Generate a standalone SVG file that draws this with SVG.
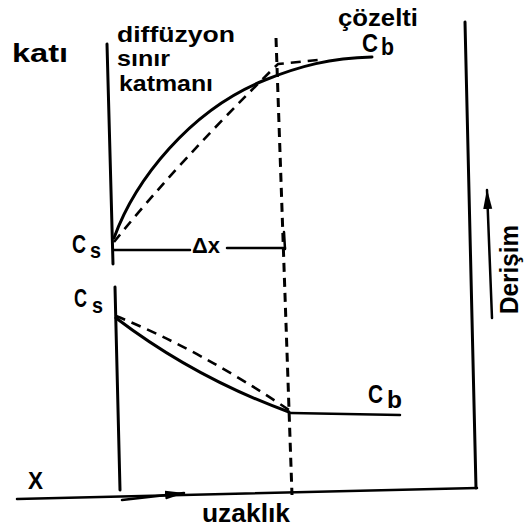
<svg xmlns="http://www.w3.org/2000/svg" width="531" height="529" viewBox="0 0 531 529">
<style>
.t{font-family:"Liberation Sans",Arial,sans-serif;fill:#000;font-weight:bold}
.s{fill:none;stroke:#000;stroke-width:3;stroke-linecap:round;stroke-linejoin:round}
.th{fill:none;stroke:#000;stroke-width:2.5;stroke-linecap:round}
.d{fill:none;stroke:#000;stroke-width:2.6;stroke-dasharray:10,7}
.dv{fill:none;stroke:#000;stroke-width:3;stroke-dasharray:9,6}
</style>
<defs>
<marker id="ah" viewBox="0 0 20 10" refX="19" refY="5" markerWidth="20" markerHeight="10" orient="auto" markerUnits="userSpaceOnUse">
<path d="M0,0.5 L20,5 L0,9.5 Z" fill="#000"/>
</marker>
</defs>
<rect width="531" height="529" fill="#fff"/>
<g id="frame">
<path class="s" d="M107,44 L113,264"/>
<path class="s" d="M115,287 L120,490"/>
<path class="s" d="M465,22 L476,488"/>
<path class="th" d="M17,499 L477,488"/>
</g>
<g id="connectors">
<path class="s" d="M114,238 C135,180 190,110 265,80 C300,66 330,58 372,57"/>
<path class="d" d="M114,242 Q180,160 278,64 L318,60"/>
<path class="s" d="M116,318 Q195,378 289,412"/>
<path class="d" d="M116,316 Q200,350 289,410"/>
<path class="th" d="M291,413 L400,415"/>
<path class="dv" d="M276,38 L292,495"/>
<path class="th" d="M284,232 L285,249"/>
<path class="th" d="M114,250 L190,250"/>
<path class="th" d="M227,248 L285,248"/>
<path class="th" d="M122,500 L184,493" marker-end="url(#ah)"/>
<path class="th" d="M492,318 L487,190" marker-end="url(#ah)"/>
</g>
<g id="labels">
<text class="t" x="12" y="62" font-size="26" textLength="56" lengthAdjust="spacingAndGlyphs">katı</text>
<text class="t" x="117" y="42" font-size="22" textLength="118" lengthAdjust="spacingAndGlyphs">diffüzyon</text>
<text class="t" x="117" y="66" font-size="22" textLength="53" lengthAdjust="spacingAndGlyphs">sınır</text>
<text class="t" x="119" y="91" font-size="22" textLength="94" lengthAdjust="spacingAndGlyphs">katmanı</text>
<text class="t" x="338" y="26" font-size="24" textLength="80" lengthAdjust="spacingAndGlyphs">çözelti</text>
</g>
<g id="Cb-top">
<text class="t" x="362" y="52" font-size="25" textLength="16" lengthAdjust="spacingAndGlyphs">C</text>
<text class="t" x="381" y="55" font-size="23" textLength="13" lengthAdjust="spacingAndGlyphs">b</text>
</g>
<g id="Cs-top">
<text class="t" x="72" y="253" font-size="25" textLength="14" lengthAdjust="spacingAndGlyphs">C</text>
<text class="t" x="90" y="258" font-size="22" textLength="11" lengthAdjust="spacingAndGlyphs">s</text>
</g>
<g id="Cs-bottom">
<text class="t" x="74" y="307" font-size="25" textLength="13" lengthAdjust="spacingAndGlyphs">C</text>
<text class="t" x="92" y="313" font-size="22" textLength="11" lengthAdjust="spacingAndGlyphs">s</text>
</g>
<g id="Cb-bottom">
<text class="t" x="368" y="403" font-size="25" textLength="15" lengthAdjust="spacingAndGlyphs">C</text>
<text class="t" x="387" y="408" font-size="23" textLength="15" lengthAdjust="spacingAndGlyphs">b</text>
</g>
<g id="dx">
<text class="t" x="192" y="253" font-size="22" textLength="28" lengthAdjust="spacingAndGlyphs">Δx</text>
</g>
<g id="axes-labels">
<text class="t" x="28" y="489" font-size="24" textLength="15" lengthAdjust="spacingAndGlyphs">X</text>
<text class="t" x="202" y="522" font-size="25" textLength="88" lengthAdjust="spacingAndGlyphs">uzaklık</text>
<text class="t" transform="translate(518,314) rotate(-90)" font-size="26" textLength="89" lengthAdjust="spacingAndGlyphs">Derişim</text>
</g>
</svg>
